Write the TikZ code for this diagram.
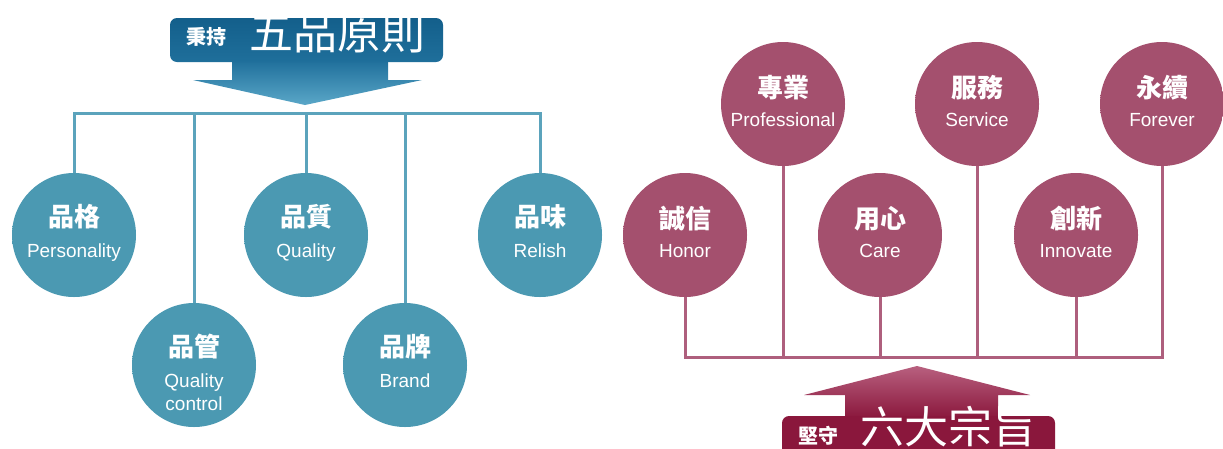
\documentclass[tikz,border=0pt]{standalone}
\usepackage{fontspec}
\setmainfont{Liberation Sans}
\newfontfamily\cjk{Noto Sans CJK TC}
\usetikzlibrary{calc}
\usepackage{xcolor}
\definecolor{tealball}{HTML}{4B99B2}
\definecolor{tealline}{HTML}{5BA3BC}
\definecolor{navytop}{HTML}{135F8B}
\definecolor{navybot}{HTML}{1F6F9B}
\definecolor{navytip}{HTML}{5AA7C8}
\definecolor{roseball}{HTML}{A4506E}
\definecolor{roseline}{HTML}{AE5F7D}
\definecolor{wine}{HTML}{8A173C}
\definecolor{winetip}{HTML}{B8607F}
\pgfdeclareradialshading{tealglow}{\pgfpoint{6bp}{-6bp}}{color(0bp)=(tealball); color(40bp)=(tealball); color(56bp)=(tealball!55!white)}
\pgfdeclareradialshading{roseglow}{\pgfpoint{6bp}{-6bp}}{color(0bp)=(roseball); color(40bp)=(roseball); color(56bp)=(roseball!55!white)}

\begin{document}
\begin{tikzpicture}[x=1pt,y=-1pt,
 ball/.style={circle,minimum size=124pt,inner sep=0pt,shade},
 zh/.style={font=\cjk\bfseries\fontsize{26}{28}\selectfont,text=white,anchor=base,inner sep=0pt},
 en/.style={font=\fontsize{19}{22}\selectfont,text=white,anchor=base,inner sep=0pt},
 banner/.style={rectangle,rounded corners=7pt,minimum width=273pt,inner sep=0pt},
 small/.style={font=\cjk\bfseries\fontsize{20}{22}\selectfont,text=white,inner sep=0pt},
 big/.style={font=\cjk\fontsize{44}{46}\selectfont,text=white,inner sep=0pt}]
\useasboundingbox (0,0) rectangle (1223,448);
\clip (0,0) rectangle (1223,448);
\fill[white] (0,0) rectangle (1223,448);

% five principles
\shade[top color=navybot, bottom color=navytip] (232,60)--(388,60)--(388,80)--(422,80)--(305,105)--(193,80)--(232,80)--cycle;
\node[banner, minimum height=44pt, top color=navytop, bottom color=navybot] (hd) at (306.5,40) {};
\node[small] (hd1) at (206,37) {秉持};
\node[big] (hd2) at (337,33) {五品原則};
\foreach \n/\x/\y/\zh/\en in {p1/74/235/品格/Personality, p2/194/365/品管/Quality, p3/306/235/品質/Quality, p4/405/365/品牌/Brand, p5/540/235/品味/Relish}{
 \coordinate (b\n) at (\x,113);
 \node[ball, shading=tealglow] (\n) at (\x,\y) {};
 \draw[tealline, line width=3pt] (b\n) -- (\n);
 \node[zh] (\n zh) at ($(\n)+(0,-9)$) {\zh};
 \node[en] (\n en) at ($(\n)+(0,22)$) {\en};
}
\node[en] (p2en2) at ($(p2)+(0,45)$) {control};
\draw[tealline, line width=3pt, line cap=rect] (bp1) -- (bp5);

% six aims
\shade[top color=winetip, bottom color=wine] (845,418)--(845,395)--(804,395)--(917,366)--(1030,395)--(998,395)--(998,418)--cycle;
\node[banner, minimum height=58pt, fill=wine] (ft) at (918.5,445) {};
\node[small] (ft1) at (818,436) {堅守};
\node[big] (ft2) at (948,427) {六大宗旨};
\foreach \n/\x/\y/\zh/\en in {s1/685/235/誠信/Honor, s2/783/104/專業/Professional, s3/880/235/用心/Care, s4/977/104/服務/Service, s5/1076/235/創新/Innovate, s6/1162/104/永續/Forever}{
 \coordinate (b\n) at (\x,357);
 \node[ball, shading=roseglow] (\n) at (\x,\y) {};
 \draw[roseline, line width=3pt] (b\n) -- (\n);
 \node[zh] (\n zh) at ($(\n)+(0,-7)$) {\zh};
 \node[en] (\n en) at ($(\n)+(0,22)$) {\en};
}
\draw[roseline, line width=3pt, line cap=rect] (bs1) -- (bs6);
\end{tikzpicture}
\end{document}
